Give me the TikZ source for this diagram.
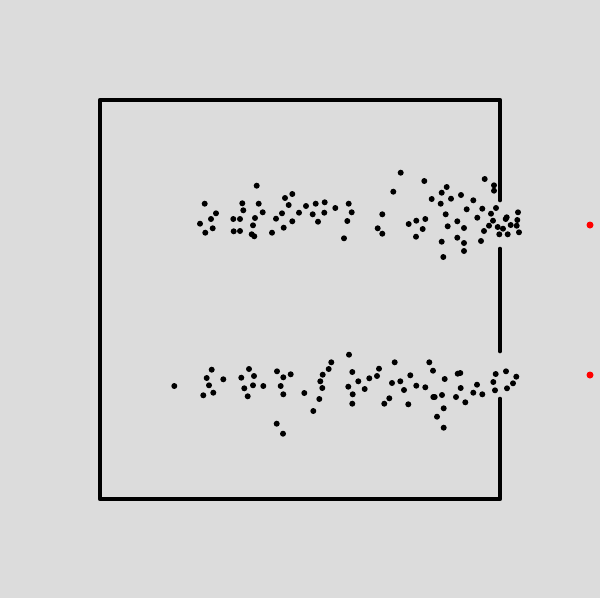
\documentclass[tikz,border=0pt]{standalone}
\begin{document}
\begin{tikzpicture}[x=1pt,y=-1pt,
  wall/.style={line width=4.7pt,line cap=round,line join=round,black},
  particle/.style={fill=black},
  target/.style={fill=red}]
\fill[fill={rgb,255:red,220;green,220;blue,220}] (0,0) rectangle (600,598);
\useasboundingbox (0,0) rectangle (600,598);
\draw[wall] (500,200) -- (500,100) -- (100,100) -- (100,499) -- (500,499) -- (500,399);
\draw[wall] (500,249) -- (500,351);
\foreach \x/\y in {256.7/185.7,204.7/203.7,216/213.3,200/223.7,211/219,205.3/232.7,212.7/228.3,
242.3/203.3,243.3/210.3,233.3/219,240/219,233.7/231.3,240/231,258.7/203.7,262.7/212.3,255/218,
253/225.3,251.7/234.3,254.3/236.3,272/232.7,276/218.7,282/213.3,283.7/227.7,285/198,292.3/194,
288.7/205,292.3/221.3,299/212.7,306/206,312.7/214.3,315.7/203.7,318/221.7,324.7/202.3,324.3/212.7,
335.3/208,348.7/203.7,351.7/212.3,347.3/221,344/238.3,
400.7/172.7,424.3/181,393.3/191.7,446.7/187,441.7/192.7,431.7/199,440.7/203.7,451/198.7,461/195,
473.3/200.3,466.7/209.3,484.7/179,494/185.3,494/190.7,382.3/214.3,377.7/228.3,382.3/233.7,
408.7/224,416.3/220.7,425.3/219,422.7/229,416/236.7,445.7/214.3,447.7/226.3,457.3/221.3,464/228,
457.3/237.7,441.7/241.7,464/243,464/251,443.3/257,482.3/208.7,477.3/217.7,491/213.7,496/208,
493/220.7,489/225.7,484/231,481/241,497.7/227,503/228.7,499.3/234.3,506.7/217.3,505.7/219,
507.7/234.3,510.7/225,518/212.3,517.3/220,516.7/225.7,519/232.3,
174.3/386,211.7/369.7,206.7/378,209/385.3,203.3/395.3,213.3/392.7,223.3/379.3,249/369,254/376,
241.3/377.7,244.3/388.3,253/385.3,247.7/396.3,263.3/386,277/371.3,283.3/377.3,290.7/374.3,
280.7/386,283.3/394.3,276.7/423.7,283/433.7,304.3/393,313.3/411,319.3/399,322.3/388,320.3/381.3,
322.7/374.7,328.7/369,331.3/362.3,
349/354.7,352.3/372,358.3/381.3,348.3/386.7,352.7/394.3,352.3/403.7,364.7/389,369.3/378.3,
377/376,379/368.7,394.7/362.3,392/383,400.3/381.3,404/390,410.3/375.3,416.3/385.7,389.3/398.3,
384.3/403.7,408.3/404.3,429.3/362.3,433/370.7,425.3/387.3,433.3/397,434.7/397,442/395,444.7/379,
443.7/408.3,437/416.7,443.7/427.7,457.7/373.7,460.3/373,460.7/388,456/397,465.3/402.3,477/384.7,
473.3/392.7,482.3/394.3,493.3/382,495.7/374,495/390.3,506/371.3,507/388.3,513/383.3,516.3/376.7}
  \fill[particle] (\x,\y) circle (3);
\fill[target] (590,225) circle (3.5);
\fill[target] (590,375) circle (3.5);
\end{tikzpicture}
\end{document}
